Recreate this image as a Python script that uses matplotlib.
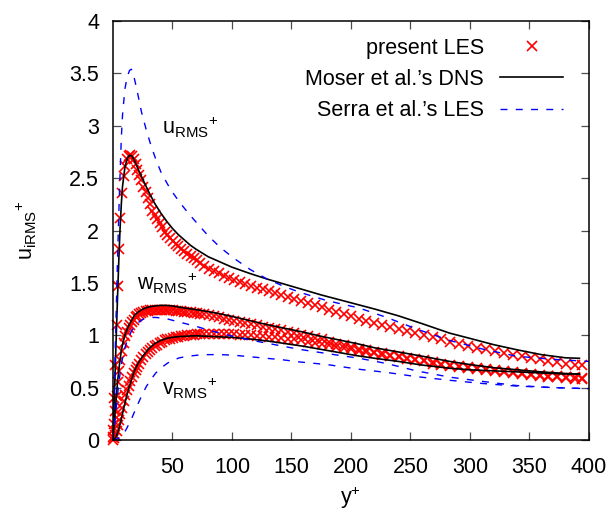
import matplotlib
matplotlib.use('Agg')
from matplotlib import pyplot as plt

# LES grid (wall units) and rms profiles
les_yp = [0.3, 1.1, 2.0, 3.0, 4.0, 5.1, 6.3, 7.6, 9.0, 10.5,
          11.8, 13.2, 14.6, 16.0, 17.5, 19.0, 20.6, 22.2, 23.9, 25.6,
          27.4, 29.2, 31.1, 33.0, 35.0, 37.0, 39.1, 41.2, 43.4, 45.6,
          47.9, 50.2, 52.6, 55.0, 57.5, 60.0, 62.6, 65.2, 67.9, 70.6,
          73.4, 76.5, 80.5,
          84.6, 88.8, 93.1, 97.5, 102.0, 106.6, 111.3, 116.1, 121.0, 126.0,
          131.1, 136.3, 141.6, 147.0, 152.5, 158.1, 163.8, 169.6, 175.5, 181.5,
          187.6, 193.8, 200.1, 206.5, 213.0, 219.6, 226.3, 233.1, 240.0, 247.0,
          254.1, 261.3, 268.6, 276.0, 283.5, 291.0, 298.5, 306.0, 313.5, 321.0,
          328.5, 336.0, 343.5, 351.0, 358.5, 366.0, 373.5, 381.0, 388.5, 394.0]
les_u = [0.10, 0.40, 0.72, 1.10, 1.47, 1.82, 2.12, 2.36, 2.52, 2.62,
         2.68, 2.71, 2.72, 2.71, 2.68, 2.64, 2.58, 2.53, 2.48, 2.42,
         2.37, 2.31, 2.25, 2.19, 2.15, 2.11, 2.07, 2.03, 1.99, 1.96,
         1.93, 1.90, 1.875, 1.85, 1.825, 1.80, 1.78, 1.76, 1.735, 1.715,
         1.69, 1.665, 1.635,
         1.61, 1.59, 1.57, 1.55, 1.53, 1.51, 1.49, 1.47, 1.45, 1.44,
         1.42, 1.40, 1.38, 1.37, 1.35, 1.33, 1.31, 1.29, 1.27, 1.24,
         1.22, 1.20, 1.18, 1.16, 1.14, 1.12, 1.10, 1.08, 1.06, 1.04,
         1.02, 1.00, 0.98, 0.96, 0.94, 0.92, 0.90, 0.88, 0.87, 0.85,
         0.83, 0.81, 0.80, 0.78, 0.77, 0.75, 0.74, 0.73, 0.72, 0.72]
les_w = [0.03, 0.15, 0.28, 0.42, 0.55, 0.66, 0.76, 0.85, 0.93, 0.99,
         1.03, 1.07, 1.10, 1.13, 1.15, 1.17, 1.18, 1.20, 1.21, 1.22,
         1.23, 1.235, 1.24, 1.24, 1.245, 1.245, 1.245, 1.245, 1.245, 1.24,
         1.24, 1.24, 1.235, 1.235, 1.23, 1.225, 1.22, 1.22, 1.215, 1.21,
         1.205, 1.20, 1.19,
         1.18, 1.17, 1.16, 1.15, 1.14, 1.13, 1.12, 1.11, 1.10, 1.08,
         1.07, 1.06, 1.05, 1.03, 1.02, 1.00, 0.99, 0.97, 0.96, 0.94,
         0.92, 0.91, 0.89, 0.87, 0.86, 0.84, 0.83, 0.81, 0.80, 0.78,
         0.77, 0.76, 0.74, 0.73, 0.72, 0.71, 0.70, 0.69, 0.68, 0.67,
         0.66, 0.65, 0.64, 0.63, 0.62, 0.61, 0.61, 0.60, 0.60, 0.59]
les_v = [0.00, 0.02, 0.05, 0.09, 0.14, 0.19, 0.25, 0.31, 0.37, 0.43,
         0.48, 0.52, 0.56, 0.60, 0.64, 0.67, 0.70, 0.73, 0.76, 0.79,
         0.82, 0.84, 0.86, 0.88, 0.90, 0.91, 0.93, 0.94, 0.95, 0.96,
         0.965, 0.97, 0.98, 0.985, 0.99, 0.995, 1.00, 1.00, 1.005, 1.01,
         1.01, 1.01, 1.01,
         1.01, 1.01, 1.01, 1.01, 1.01, 1.00, 1.00, 1.00, 0.99, 0.99,
         0.98, 0.98, 0.97, 0.96, 0.96, 0.95, 0.94, 0.93, 0.92, 0.91,
         0.89, 0.88, 0.87, 0.85, 0.84, 0.83, 0.81, 0.80, 0.79, 0.77,
         0.76, 0.75, 0.73, 0.72, 0.71, 0.70, 0.69, 0.68, 0.67, 0.66,
         0.65, 0.64, 0.63, 0.62, 0.61, 0.60, 0.60, 0.59, 0.58, 0.58]

# Moser et al. DNS (Re_tau = 395)
dns_yp = [0, 1, 2, 3, 4, 5, 6, 7, 8, 10, 12, 14, 16, 18, 21, 25, 30, 35, 40, 45,
          50, 55, 60, 65, 70, 80, 90, 100, 115, 130, 145, 160, 175, 190, 205, 220,
          240, 260, 283, 300, 320, 340, 360, 380, 392]
dns_u = [0, 0.36, 0.72, 1.08, 1.42, 1.75, 2.03, 2.25, 2.42, 2.60, 2.69, 2.72, 2.71,
         2.67, 2.59, 2.49, 2.37, 2.26, 2.17, 2.09, 2.02, 1.96, 1.91, 1.86, 1.82,
         1.75, 1.70, 1.65, 1.59, 1.535, 1.485, 1.435, 1.385, 1.34, 1.295, 1.25,
         1.185, 1.11, 1.02, 0.97, 0.91, 0.86, 0.815, 0.785, 0.78]
dns_w = [0, 0.14, 0.29, 0.44, 0.57, 0.68, 0.77, 0.85, 0.91, 1.00, 1.06, 1.11, 1.15,
         1.19, 1.22, 1.25, 1.27, 1.28, 1.285, 1.285, 1.28, 1.27, 1.26, 1.253, 1.245,
         1.225, 1.205, 1.18, 1.14, 1.10, 1.065, 1.03, 0.99, 0.955, 0.92, 0.88, 0.84,
         0.80, 0.75, 0.72, 0.69, 0.67, 0.65, 0.635, 0.63]
dns_v = [0, 0.005, 0.02, 0.04, 0.07, 0.11, 0.15, 0.20, 0.25, 0.35, 0.44, 0.52, 0.59,
         0.66, 0.73, 0.80, 0.87, 0.92, 0.95, 0.97, 0.98, 0.987, 0.99, 0.993, 0.995,
         0.99, 0.985, 0.98, 0.965, 0.945, 0.92, 0.895, 0.865, 0.835, 0.805, 0.78,
         0.75, 0.715, 0.685, 0.67, 0.66, 0.65, 0.64, 0.63, 0.63]

# Serra et al. LES
ser_yp = [0, 2, 4, 5, 6, 7, 8, 10, 12, 14, 15.5, 17, 20, 24, 28, 32, 36, 40.6, 46,
          51, 56, 63, 71.4, 80, 90, 101, 115, 129, 143, 157, 180, 207, 230, 255,
          283, 310, 339, 370, 400]
ser_u = [0, 0.9, 1.8, 2.2, 2.55, 2.88, 3.1, 3.35, 3.47, 3.53, 3.54, 3.50, 3.35,
         3.13, 2.96, 2.81, 2.68, 2.55, 2.44, 2.35, 2.27, 2.17, 2.06, 1.95, 1.84,
         1.74, 1.63, 1.54, 1.47, 1.41, 1.33, 1.26, 1.17, 1.06, 0.95, 0.87, 0.80,
         0.77, 0.75]
ser_w = [0, 0.22, 0.45, 0.55, 0.64, 0.72, 0.78, 0.88, 0.95, 1.00, 1.04, 1.07, 1.11,
         1.145, 1.165, 1.17, 1.17, 1.165, 1.155, 1.14, 1.125, 1.105, 1.08, 1.05,
         1.02, 0.99, 0.955, 0.925, 0.895, 0.865, 0.825, 0.78, 0.73, 0.66, 0.60,
         0.56, 0.52, 0.50, 0.49]
ser_v = [0, 0.005, 0.015, 0.02, 0.03, 0.04, 0.05, 0.08, 0.12, 0.17, 0.20, 0.24,
         0.32, 0.42, 0.51, 0.58, 0.64, 0.69, 0.735, 0.765, 0.785, 0.80, 0.81,
         0.815, 0.815, 0.81, 0.795, 0.78, 0.765, 0.745, 0.72, 0.675, 0.645, 0.605,
         0.57, 0.54, 0.515, 0.50, 0.49]

plt.rcParams['font.family'] = ['Liberation Sans', 'DejaVu Sans']
plt.rcParams['mathtext.default'] = 'regular'
fs = 15.5

fig = plt.figure(figsize=(6.16, 5.14), dpi=100)
ax = fig.add_axes([0.1834, 0.144, 0.7727, 0.815])

# LES points first, then the reference lines on top
for i, prof in enumerate([les_u, les_w, les_v]):
    ax.plot(les_yp, prof, linestyle='none', marker='x', color='#ff0000',
            markersize=6.5, markeredgewidth=1.2, clip_on=False,
            label='present LES' if i == 0 else '_nolegend_')
for i, prof in enumerate([dns_u, dns_w, dns_v]):
    ax.plot(dns_yp, prof, color='black', linewidth=1.2,
            label='Moser et al.\u2019s DNS' if i == 0 else '_nolegend_')
for i, prof in enumerate([ser_u, ser_w, ser_v]):
    ax.plot(ser_yp, prof, color='#0000ff', linewidth=1.0, dashes=(5, 6),
            label='Serra et al.\u2019s LES' if i == 0 else '_nolegend_')

ax.text(41, 2.92, r'$u_{RMS}{}^{+}$', fontsize=fs, va='baseline')
ax.text(20, 1.43, r'$w_{RMS}{}^{+}$', fontsize=fs, va='baseline')
ax.text(41, 0.43, r'$v_{RMS}{}^{+}$', fontsize=fs, va='baseline')

ax.set_xlim(0, 400)
ax.set_ylim(0, 4)
ax.set_xticks([50, 100, 150, 200, 250, 300, 350, 400])
ax.set_yticks([0, 0.5, 1, 1.5, 2, 2.5, 3, 3.5, 4])
ax.set_yticklabels(['0', '0.5', '1', '1.5', '2', '2.5', '3', '3.5', '4'])
ax.tick_params(direction='in', top=True, right=True, length=6, width=0.9,
               color='0.3', labelsize=fs)
ax.tick_params(axis='x', pad=12)
ax.tick_params(axis='y', pad=10)
for s in ax.spines.values():
    s.set_linewidth(1.1)

ax.set_xlabel(r'$y^{+}$', fontsize=fs, labelpad=5)
ax.set_ylabel(r'$u_{iRMS}{}^{+}$', fontsize=fs, labelpad=22)

ax.legend(loc='upper right', bbox_to_anchor=(0.945, 0.96), frameon=False,
          markerfirst=False, numpoints=1, fontsize=fs, handlelength=2.9,
          handletextpad=0.75, labelspacing=0.47, borderaxespad=0, borderpad=0)

plt.savefig('out.png', dpi=100)
